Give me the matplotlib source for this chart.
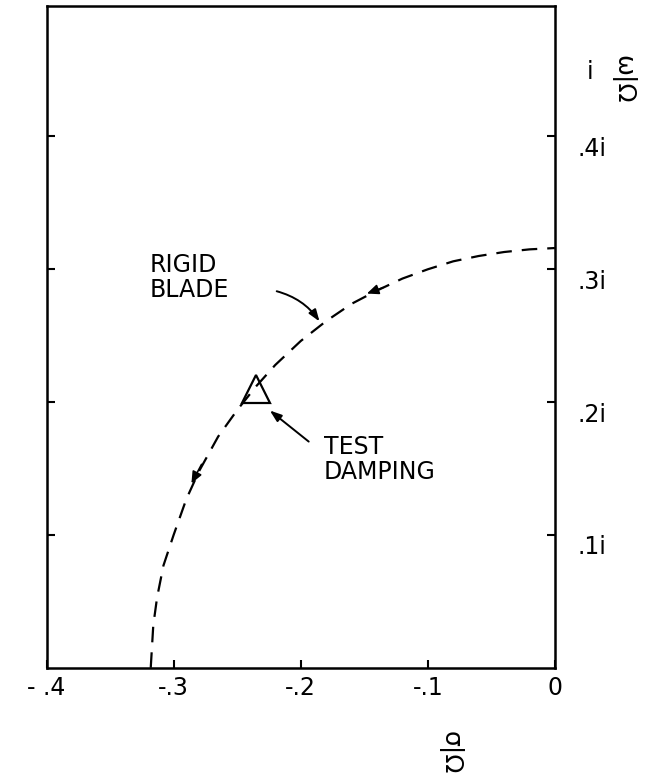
import matplotlib
matplotlib.use("Agg")
import matplotlib.pyplot as plt
import matplotlib.transforms as mtransforms

# root locus of the rigid blade
curve_x = [-0.318, -0.316, -0.313, -0.308, -0.300, -0.290, -0.280, -0.265, -0.250,
           -0.235, -0.220, -0.200, -0.180, -0.160, -0.140, -0.120, -0.100, -0.080,
           -0.060, -0.040, -0.020, 0.0]
curve_y = [0.0, 0.032, 0.053, 0.077, 0.100, 0.127, 0.148, 0.174, 0.194,
           0.212, 0.228, 0.246, 0.261, 0.274, 0.284, 0.293, 0.300, 0.306,
           0.310, 0.313, 0.315, 0.316]

# direction arrows on the curve (tail -> head)
dir_tail = [(-0.133, 0.287), (-0.277, 0.155)]
dir_head = [(-0.150, 0.281), (-0.287, 0.137)]

# test damping point
test_x = [-0.235]
test_y = [0.210]

xticks = [-0.4, -0.3, -0.2, -0.1, 0.0]
xtick_labels = ["- .4", "-.3", "-.2", "-.1", "0"]
yticks = [0.1, 0.2, 0.3, 0.4]
ytick_labels = [".1i", ".2i", ".3i", ".4i"]

fig = plt.figure(figsize=(6.46, 7.82), dpi=100)
ax = fig.add_axes([0.072, 0.146, 0.787, 0.846])

ax.plot(curve_x, curve_y, color="black", lw=1.6, dashes=(7, 4.5))

for t, h in zip(dir_tail, dir_head):
    ax.annotate("", xy=h, xytext=t,
                arrowprops=dict(arrowstyle="-|>,head_length=0.7,head_width=0.3",
                                color="black", lw=1.2))

ax.plot(test_x, test_y, marker="^", markersize=20, mfc="none", mec="black", mew=1.6,
        linestyle="none")

# labels with arrows
ax.text(-0.319, 0.312, "RIGID\nBLADE", fontsize=17, va="top", ha="left", linespacing=1.05)
ax.annotate("", xy=(-0.184, 0.259), xytext=(-0.221, 0.284),
            arrowprops=dict(arrowstyle="-|>,head_length=0.7,head_width=0.25",
                            color="black", lw=1.4, connectionstyle="arc3,rad=-0.2"))

ax.text(-0.182, 0.175, "TEST\nDAMPING", fontsize=17, va="top", ha="left", linespacing=1.05)
ax.annotate("", xy=(-0.226, 0.195), xytext=(-0.192, 0.169),
            arrowprops=dict(arrowstyle="-|>,head_length=0.7,head_width=0.25",
                            color="black", lw=1.4))

ax.set_xlim(-0.4, 0.0)
ax.set_ylim(0.0, 0.498)
ax.set_xticks(xticks)
ax.set_xticklabels(xtick_labels, fontsize=17)
ax.set_yticks(yticks)
ax.set_yticklabels(ytick_labels, fontsize=17)

ax.tick_params(axis="x", direction="in", length=6, width=1.5, pad=6, top=False)
ax.tick_params(axis="y", direction="in", length=6, width=1.5, pad=16,
               left=True, right=True, labelleft=False, labelright=True)

# y labels sit a little below their ticks
off = mtransforms.ScaledTranslation(0, -10 / 100, fig.dpi_scale_trans)
for lab in ax.get_yticklabels():
    lab.set_transform(lab.get_transform() + off)

for s in ax.spines.values():
    s.set_linewidth(1.8)

# axis labels (written sideways)
fig.text(0.697, 0.038, "σ|Ω", fontsize=18, rotation=-90, ha="center", va="center")
fig.text(0.913, 0.908, "i", fontsize=17, ha="center", va="center")
fig.text(0.964, 0.898, "ω|Ω", fontsize=18, rotation=-90, ha="center", va="center")

fig.savefig("out.png", dpi=100)
